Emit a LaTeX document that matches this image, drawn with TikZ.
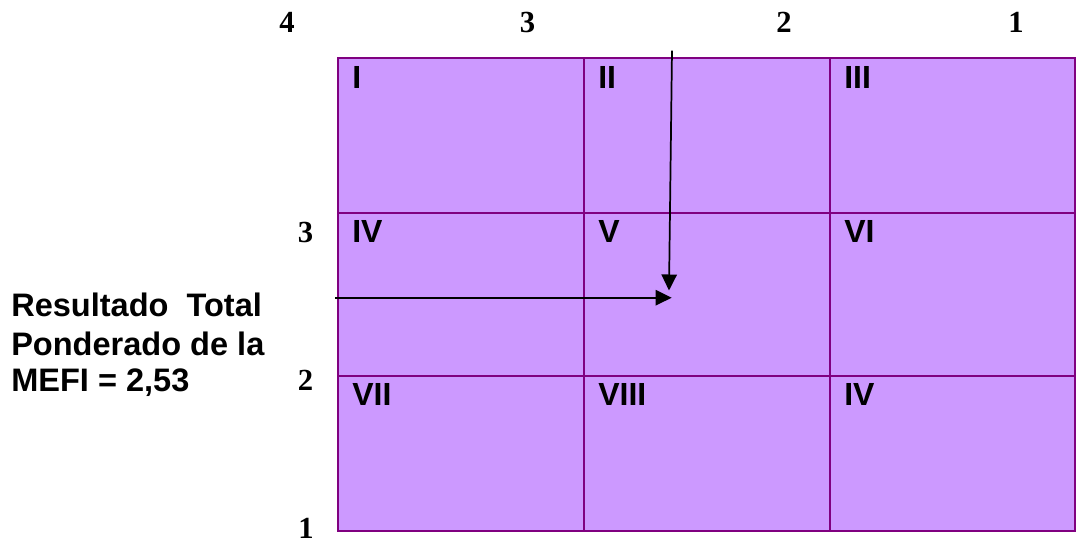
\documentclass[tikz,border=0pt]{standalone}
\usepackage{fontspec}
\setmainfont{Liberation Serif}
\setsansfont{Liberation Sans}
\usetikzlibrary{arrows.meta}
\definecolor{cellfill}{HTML}{CC99FF}
\definecolor{cellline}{HTML}{800080}
\begin{document}
\begin{tikzpicture}[x=0.75pt,y=-0.75pt,
  cellbox/.style={draw=cellline, fill=cellfill, line width=1.5pt},
  celllabel/.style={anchor=north west, inner sep=0pt, font=\sffamily\bfseries\fontsize{24pt}{27pt}\selectfont},
  scalenum/.style={anchor=base, inner sep=0pt, font=\rmfamily\bfseries\fontsize{23pt}{27pt}\selectfont},
  sidetext/.style={anchor=base west, inner sep=0pt, font=\sffamily\bfseries\fontsize{24.4pt}{27pt}\selectfont},
  arr/.style={draw=black, line width=1.3pt, -{Triangle[length=12pt,width=11.5pt]}}]
\useasboundingbox (0,0) rectangle (1076,544);
% grid cells
\draw[cellbox] (337.5,57.7) rectangle (584,212.7);
\draw[cellbox] (584,57.7) rectangle (830,212.7);
\draw[cellbox] (830,57.7) rectangle (1075,212.7);
\draw[cellbox] (337.5,212.7) rectangle (584,375.7);
\draw[cellbox] (584,212.7) rectangle (830,375.7);
\draw[cellbox] (830,212.7) rectangle (1075,375.7);
\draw[cellbox] (337.5,375.7) rectangle (584,530.7);
\draw[cellbox] (584,375.7) rectangle (830,530.7);
\draw[cellbox] (830,375.7) rectangle (1075,530.7);
% cell labels
\node[celllabel] (l1) at (352,66.7) {I};
\node[celllabel] (l2) at (598,66.7) {II};
\node[celllabel] (l3) at (844,66.7) {III};
\node[celllabel] (l4) at (352,220.7) {IV};
\node[celllabel] (l5) at (598,220.7) {V};
\node[celllabel] (l6) at (844,220.7) {VI};
\node[celllabel] (l7) at (352,383) {VII};
\node[celllabel] (l8) at (598,383) {VIII};
\node[celllabel] (l9) at (844,383) {IV};
% top scale
\node[scalenum] (t4) at (287,32) {4};
\node[scalenum] (t3) at (527.5,32) {3};
\node[scalenum] (t2) at (784,32) {2};
\node[scalenum] (t1) at (1016,32) {1};
% side scale
\node[scalenum] (s3) at (305.5,242.7) {3};
\node[scalenum] (s2) at (305.5,390.7) {2};
\node[scalenum] (s1) at (306,538) {1};
% left text
\node[sidetext] (r1) at (11,316.7) {Resultado~~Total};
\node[sidetext] (r2) at (11,355) {Ponderado de la};
\node[sidetext] (r3) at (11,391.7) {MEFI = 2,53};
% arrows
\coordinate (vstart) at (672,50.7);
\coordinate (vend) at (669,290.5);
\coordinate (hstart) at (335,297.7);
\coordinate (hend) at (671.7,297.7);
\draw[arr] (vstart) -- (vend);
\draw[arr] (hstart) -- (hend);
\end{tikzpicture}
\end{document}
